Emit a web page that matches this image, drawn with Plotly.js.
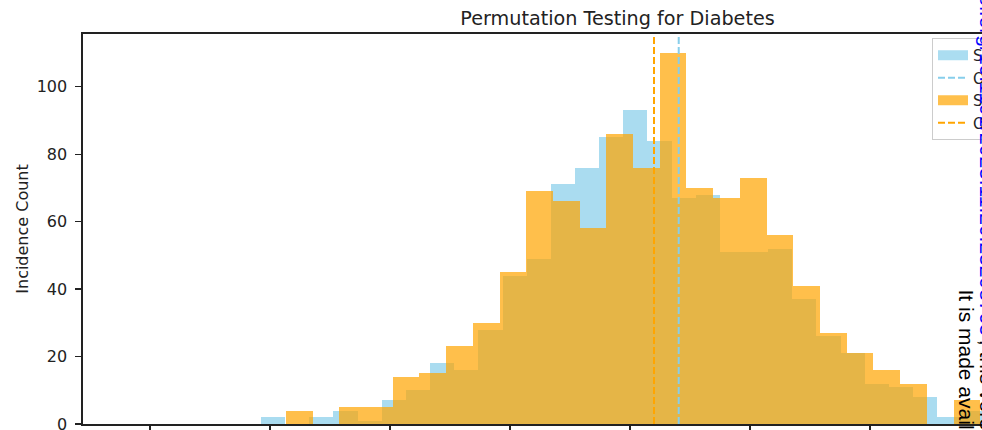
<!DOCTYPE html>
<html><head><meta charset="utf-8">
<script src="https://cdn.plot.ly/plotly-3.0.1.min.js"></script>
<style>html,body{margin:0;padding:0;overflow:hidden;background:#fff;width:982px;height:430px}#chart{width:1180px;height:430px}</style>
</head><body><div id="chart"></div>
<script>
// ---- data ----
const blueCounts   = [2,0,2,4,1,7,10,18,16,28,44,49,71,76,85,93,84,67,68,51,51,52,37,26,21,12,11,8,2,4];
const orangeCounts = [4,0,5,5,14,15,23,30,45,69,66,58,86,76,110,70,67,73,56,41,27,21,16,12,0,7];
const blueBinStart = 0.50925, blueBinWidth = 0.0020125;
const orangeBinStart = 0.511333, orangeBinWidth = 0.002225;
const blueMean = 0.54406;
const orangeMean = 0.542;
const xTicks = [0.50, 0.51, 0.52, 0.53, 0.54, 0.55, 0.56];
const yTicks = [0, 20, 40, 60, 80, 100];
const legendNames = ['Shuffled scores (A)', 'Observed mean (A)', 'Shuffled scores (B)', 'Observed mean (B)'];
const xRange = [0.494417, 0.5835];
const yRange = [0, 115.6];

const SKY = '#87CEEB', ORANGE = '#FFA500';
const skyA = 'rgba(135,206,235,0.7)', orangeA = 'rgba(255,165,0,0.7)';

function centers(start, w, n){ const a=[]; for(let i=0;i<n;i++) a.push(start + w*(i+0.5)); return a; }

const traces = [
  {type:'bar', x:centers(blueBinStart, blueBinWidth, blueCounts.length), y:blueCounts,
   width:blueCounts.map(()=>blueBinWidth), marker:{color:SKY, line:{width:0}}, opacity:0.7,
   showlegend:false, hoverinfo:'skip'},
  {type:'bar', x:centers(orangeBinStart, orangeBinWidth, orangeCounts.length), y:orangeCounts,
   width:orangeCounts.map(()=>orangeBinWidth), marker:{color:ORANGE, line:{width:0}}, opacity:0.7,
   showlegend:false, hoverinfo:'skip'},
  {type:'scatter', mode:'lines', x:[blueMean, blueMean], y:yRange, line:{color:SKY, width:2, dash:'7px,3px'},
   name:legendNames[1], legendrank:2, hoverinfo:'skip'},
  {type:'scatter', mode:'lines', x:[orangeMean, orangeMean], y:yRange, line:{color:ORANGE, width:2, dash:'7px,3px'},
   name:legendNames[3], legendrank:4, hoverinfo:'skip'},
  {type:'scatter', mode:'lines', x:[null], y:[null], line:{color:skyA, width:11},
   name:legendNames[0], legendrank:1},
  {type:'scatter', mode:'lines', x:[null], y:[null], line:{color:orangeA, width:11},
   name:legendNames[2], legendrank:3}
];

const PL = 83, PW = 1069, PB = 424, PH = 390;
const px2x = p => (p - PL)/PW, px2y = p => (PB - p)/PH;

const layout = {
  width:1180, height:430,
  margin:{l:83, r:28, t:34, b:6},
  paper_bgcolor:'#ffffff', plot_bgcolor:'#ffffff',
  barmode:'overlay', bargap:0,
  title:{text:'Permutation Testing for Diabetes', font:{family:'DejaVu Sans', size:19.2, color:'#222'},
         x:0.5, xref:'paper', xanchor:'center', y:1-18.5/430, yref:'container', yanchor:'middle'},
  xaxis:{range:xRange, tickvals:xTicks, showticklabels:false, ticks:'outside', ticklen:6, tickwidth:1.2,
         tickcolor:'#222', showline:true, mirror:true, linecolor:'#222', linewidth:1.6, showgrid:false, zeroline:false},
  yaxis:{range:yRange, tickvals:yTicks, ticks:'outside', ticklen:6, tickwidth:1.2, tickcolor:'#222',
         showline:true, mirror:true, linecolor:'#222', linewidth:1.6, showgrid:false, zeroline:false,
         tickfont:{family:'DejaVu Sans', size:16, color:'#222'}, ticklabelstandoff:5, ticklabeloverflow:'allow',
         title:{text:'Incidence Count', font:{family:'DejaVu Sans', size:16, color:'#222'}, standoff:4}},
  legend:{x:px2x(932), xanchor:'left', y:px2y(38), yanchor:'top', bgcolor:'rgba(255,255,255,0.8)',
          bordercolor:'#cccccc', borderwidth:1, font:{family:'DejaVu Sans', size:15, color:'#222'}, tracegroupgap:0},
  annotations:[
    {text:'It is made available under a CC-BY-NC-ND 4.0 International license .', textangle:90, showarrow:false,
     xref:'paper', yref:'paper', x:px2x(953), y:px2y(287), xanchor:'left', yanchor:'top',
     font:{family:'Liberation Sans, Arial', size:21, color:'#000'}},
    {text:'https://doi.org/10.1101/2023.11.20.23298765', textangle:90, showarrow:false,
     xref:'paper', yref:'paper', x:px2x(974.7), y:px2y(338), xanchor:'left', yanchor:'bottom',
     font:{family:'Liberation Sans, Arial', size:21, color:'#0000ff'}},
    {text:'; this version posted November 22, 2023. The copyright holder', textangle:90, showarrow:false,
     xref:'paper', yref:'paper', x:px2x(974.7), y:px2y(338), xanchor:'left', yanchor:'top',
     font:{family:'Liberation Sans, Arial', size:21, color:'#000'}}
  ]
};

Plotly.newPlot('chart', traces, layout, {displayModeBar:false, staticPlot:true});
</script>
</body></html>
